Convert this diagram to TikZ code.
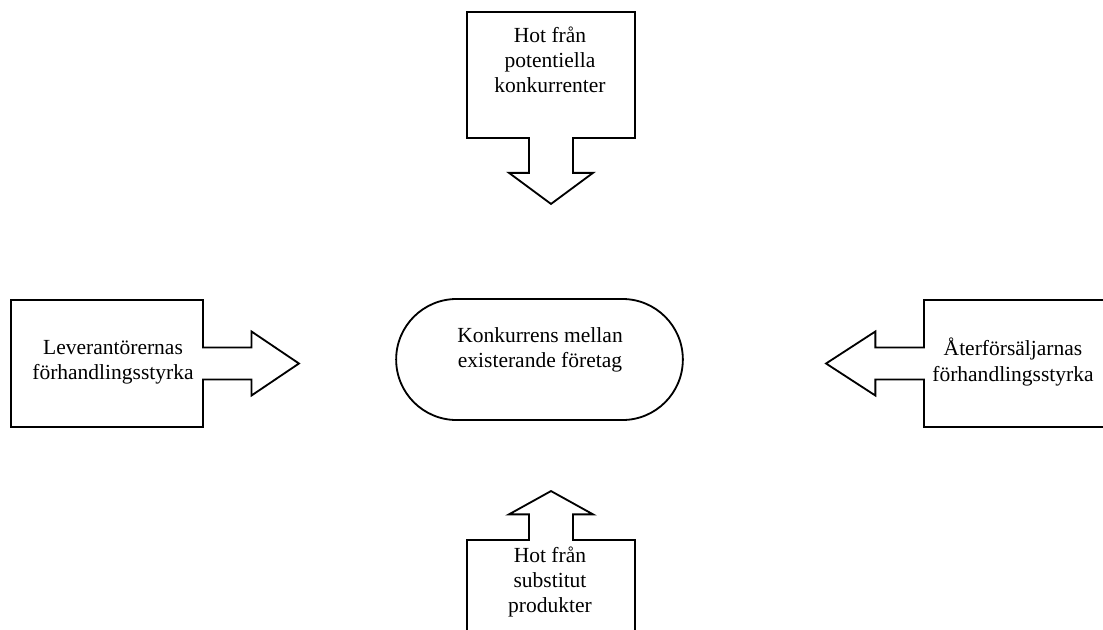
\documentclass[tikz,border=0pt]{standalone}
\usepackage{fontspec}
\setmainfont{Liberation Serif}
\usetikzlibrary{shapes.arrows,shapes.misc,positioning}
\tikzset{
    % box with one arrow on its side
    pilruta/.style={
           arrow box,
           draw=black, line width=1.3pt,
           inner sep=0pt,
           arrow box head indent=0pt},
    % rounded box in the middle
    mitt/.style={
           rounded rectangle,
           draw=black, line width=1.3pt,
           minimum width=7.4cm,
           minimum height=3.025cm},
    % texts
    etikett/.style={
           align=center,
           font=\fontsize{15.3}{17.8}\selectfont}
}
\begin{document}
\begin{tikzpicture}[x=0.025cm, y=-0.025cm]
    \useasboundingbox (0,0) rectangle (1103,630);
    \node[mitt] (konk) at (539.5,359.5) {};
    \node[etikett] (konktxt) at (540,350) {Konkurrens mellan\\existerande företag};
    % top
    \node[pilruta, minimum width=4.2cm, minimum height=3.15cm,
          arrow box arrows={south:1.625cm},
          arrow box shaft width=1.1cm, arrow box head extend=0.5cm,
          arrow box tip angle=107] (pot) at (551,75) {};
    \node[etikett] (pottxt) at (550,60) {Hot från\\potentiella\\konkurrenter};
    % left
    \node[pilruta, minimum width=4.8cm, minimum height=3.175cm,
          arrow box arrows={east:2.375cm},
          arrow box shaft width=0.8cm, arrow box head extend=0.4cm,
          arrow box tip angle=68] (lev) at (107,363.5) {};
    \node[etikett] (levtxt) at (113,362) {Leverantörernas\\förhandlingsstyrka};
    % right
    \node[pilruta, minimum width=4.5cm, minimum height=3.175cm,
          arrow box arrows={west:2.425cm},
          arrow box shaft width=0.8cm, arrow box head extend=0.4cm,
          arrow box tip angle=66] (ater) at (1014,363.5) {};
    \node[etikett] (atertxt) at (1013,362) {Återförsäljarnas\\förhandlingsstyrka};
    % bottom
    \node[pilruta, minimum width=4.2cm, minimum height=3.15cm,
          arrow box arrows={north:1.2cm},
          arrow box shaft width=1.1cm, arrow box head extend=0.5cm,
          arrow box tip angle=122] (sub) at (551,603) {};
    \node[etikett] (subtxt) at (550,582) {Hot från\\substitut\\produkter};
\end{tikzpicture}
\end{document}
